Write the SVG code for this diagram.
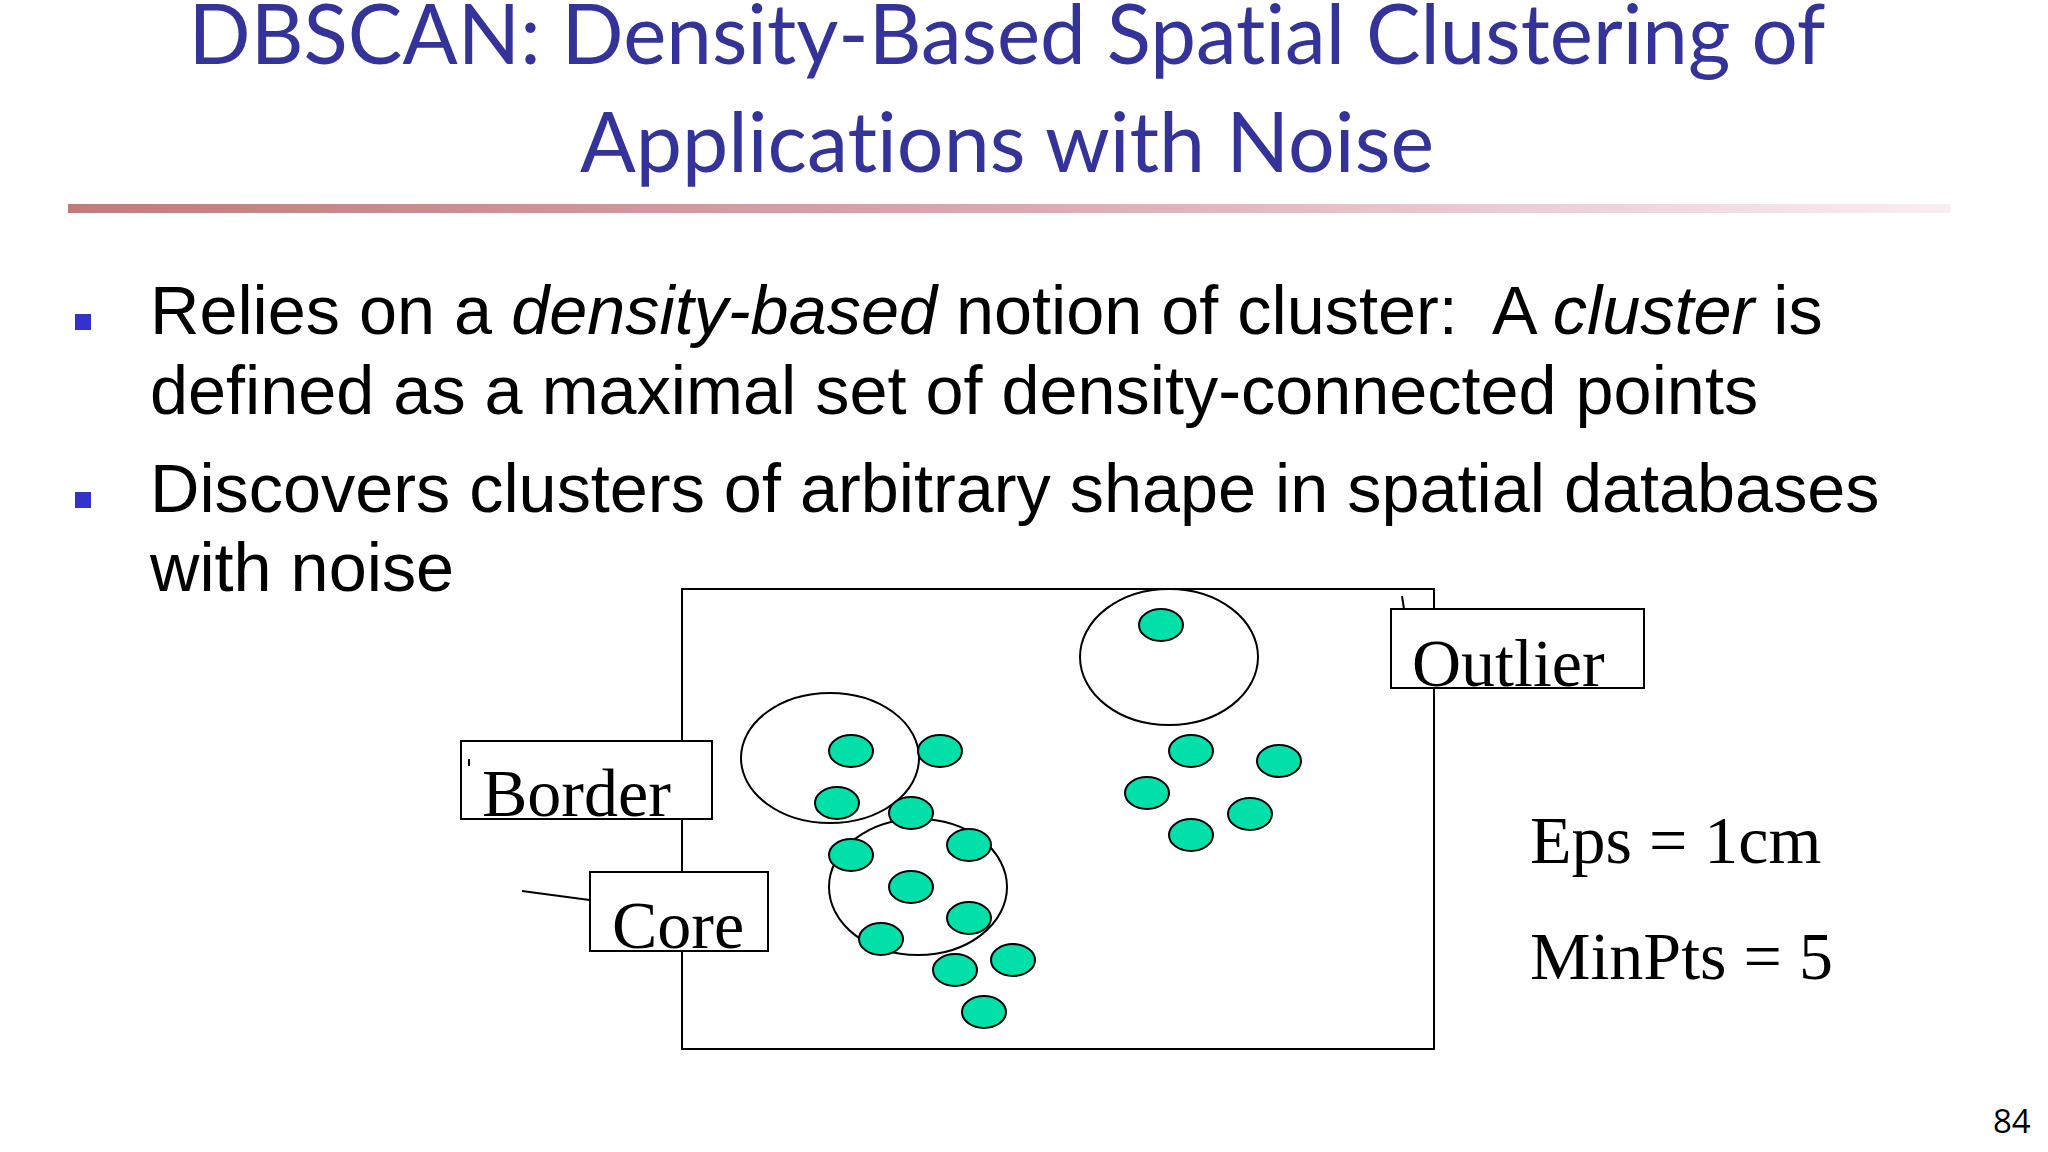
<svg xmlns="http://www.w3.org/2000/svg" width="2048" height="1152" viewBox="0 0 2048 1152">
<defs>
<linearGradient id="rule" x1="0" y1="0" x2="1" y2="0">
<stop offset="0" stop-color="#C27B7B"/>
<stop offset="0.5" stop-color="#DBA8B3"/>
<stop offset="1" stop-color="#F8EEF3"/>
</linearGradient>
<style>
.title{font-family:Lato,"Noto Sans",sans-serif;font-size:83px;fill:#333399;text-anchor:middle;font-variant-ligatures:none}
.body{font-family:"Liberation Sans",Arial,sans-serif;font-size:68.4px;fill:#000}
.lbl{font-family:"Liberation Serif","Times New Roman",serif;font-size:68px;fill:#000}
.box{fill:#fff;stroke:#000;stroke-width:2}
.eps{fill:none;stroke:#000;stroke-width:2}
.pt{fill:#00E0A8;stroke:#000;stroke-width:2}
.bul{fill:#3333CC}
.conn{stroke:#000;stroke-width:2;fill:none}
</style>
</defs>
<rect width="2048" height="1152" fill="#fff"/>
<g id="title">
<text class="title" x="1007" y="64" textLength="1637" lengthAdjust="spacingAndGlyphs">DBSCAN: Density-Based Spatial Clustering of</text>
<text class="title" x="1007" y="172" textLength="854" lengthAdjust="spacingAndGlyphs">Applications with Noise</text>
<rect x="68" y="204" width="1882" height="9" fill="url(#rule)"/>
</g>
<g id="bullets">
<rect class="bul" x="75" y="314" width="16" height="16"/>
<rect class="bul" x="75" y="492" width="16" height="16"/>
<text class="body" x="150" y="334" xml:space="preserve">Relies on a <tspan font-style="italic">density-based</tspan> notion of cluster:  A <tspan font-style="italic">cluster</tspan> is</text>
<text class="body" x="150" y="414">defined as a maximal set of density-connected points</text>
<text class="body" x="150" y="512">Discovers clusters of arbitrary shape in spatial databases</text>
<text class="body" x="150" y="591">with noise</text>
</g>
<g id="space">
<rect class="box" x="682" y="589" width="752" height="460"/>
</g>
<g id="neighbourhoods">
<ellipse class="eps" cx="830" cy="758" rx="89" ry="65"/>
<ellipse class="eps" cx="918" cy="887" rx="89" ry="68"/>
<ellipse class="eps" cx="1169" cy="657" rx="89" ry="68"/>
</g>
<g id="points">
<ellipse class="pt" cx="851" cy="751" rx="22" ry="16"/>
<ellipse class="pt" cx="940" cy="751" rx="22" ry="16"/>
<ellipse class="pt" cx="837" cy="803" rx="22" ry="16"/>
<ellipse class="pt" cx="911" cy="813" rx="22" ry="16"/>
<ellipse class="pt" cx="851" cy="855" rx="22" ry="16"/>
<ellipse class="pt" cx="969" cy="845" rx="22" ry="16"/>
<ellipse class="pt" cx="911" cy="887" rx="22" ry="16"/>
<ellipse class="pt" cx="969" cy="918" rx="22" ry="16"/>
<ellipse class="pt" cx="881" cy="939" rx="22" ry="16"/>
<ellipse class="pt" cx="955" cy="970" rx="22" ry="16"/>
<ellipse class="pt" cx="1013" cy="960" rx="22" ry="16"/>
<ellipse class="pt" cx="984" cy="1012" rx="22" ry="16"/>
<ellipse class="pt" cx="1161" cy="625" rx="22" ry="16"/>
<ellipse class="pt" cx="1191" cy="751" rx="22" ry="16"/>
<ellipse class="pt" cx="1279" cy="761" rx="22" ry="16"/>
<ellipse class="pt" cx="1147" cy="793" rx="22" ry="16"/>
<ellipse class="pt" cx="1250" cy="814" rx="22" ry="16"/>
<ellipse class="pt" cx="1191" cy="835" rx="22" ry="16"/>
</g>
<g id="connectors">
<line class="conn" x1="522" y1="891" x2="597" y2="901"/>
<line class="conn" x1="1402" y1="596" x2="1404" y2="609" stroke-width="1.5"/>
</g>
<g id="label-border">
<rect class="box" x="461" y="741" width="251" height="78"/>
<line class="conn" x1="469" y1="759" x2="469" y2="766" stroke-width="1.5"/>
<text class="lbl" x="482" y="816">Border</text>
</g>
<g id="label-core">
<rect class="box" x="590" y="872" width="178" height="79"/>
<text class="lbl" x="612" y="948">Core</text>
</g>
<g id="label-outlier">
<rect class="box" x="1391" y="609" width="253" height="79"/>
<text class="lbl" x="1412" y="686">Outlier</text>
</g>
<g id="params">
<text class="lbl" x="1530" y="863">Eps = 1cm</text>
<text class="lbl" x="1530" y="979">MinPts = 5</text>
</g>
<text x="1993" y="1133" font-family="'Open Sans',sans-serif" font-size="33" fill="#000">84</text>
</svg>
